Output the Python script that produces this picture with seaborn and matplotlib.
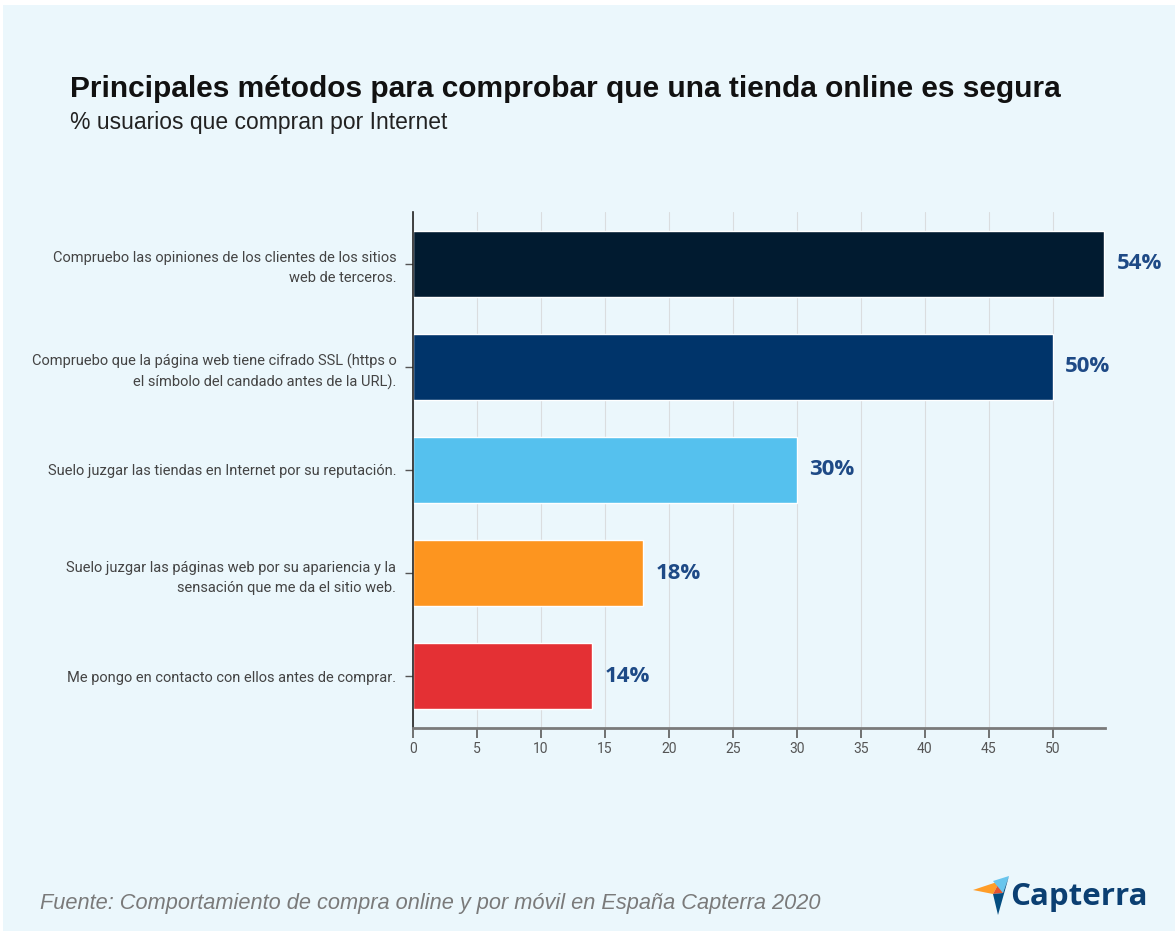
import numpy as np
import pandas as pd
import seaborn as sns
import matplotlib.pyplot as plt
from matplotlib.patches import Rectangle, Polygon

# data
categories = [
    "Compruebo las opiniones de los clientes de los sitios\nweb de terceros.",
    "Compruebo que la página web tiene cifrado SSL (https o\nel símbolo del candado antes de la URL).",
    "Suelo juzgar las tiendas en Internet por su reputación.",
    "Suelo juzgar las páginas web por su apariencia y la\nsensación que me da el sitio web.",
    "Me pongo en contacto con ellos antes de comprar.",
]
values = [54, 50, 30, 18, 14]
bar_colors = ["#011B30", "#00346A", "#55C1EE", "#FD951F", "#E43034"]
x_ticks = [0, 5, 10, 15, 20, 25, 30, 35, 40, 45, 50]

bg = "#EBF7FC"

sns.set_theme(style="white")
plt.rcParams['font.family'] = ['Liberation Sans', 'DejaVu Sans']

df = pd.DataFrame({"metodo": categories, "pct": values})

fig = plt.figure(figsize=(11.75, 9.31), dpi=100, facecolor="white")
# light blue panel, thin white strip at top and left like the screenshot
fig.patches.append(Rectangle((3 / 1175, 0), 1, 1 - 5 / 931, transform=fig.transFigure,
                             facecolor=bg, edgecolor="none", zorder=-10))

ax = fig.add_axes([413 / 1175, 203 / 931, 692 / 1175, 516 / 931])
ax.set_facecolor(bg)

sns.barplot(data=df, y="metodo", x="pct", hue="metodo", palette=bar_colors,
            legend=False, width=0.64, orient="h", ax=ax, saturation=1)

ax.set_xlim(0, 54.1)
ax.set_ylim(4.5, -0.5)
ax.set_xticks(x_ticks)
ax.xaxis.grid(True, color="#DADDDF", lw=0.8)
ax.set_axisbelow(True)
ax.set_xlabel("")
ax.set_ylabel("")

for s in ["top", "right"]:
    ax.spines[s].set_visible(False)
ax.spines["left"].set_color("#222222")
ax.spines["left"].set_linewidth(1.2)
ax.spines["bottom"].set_color("#7A7A7A")
ax.spines["bottom"].set_linewidth(2)

ax.tick_params(axis="x", bottom=True, length=7, width=1.3, color="#666666",
               labelsize=10, labelcolor="#555555", pad=3)
ax.tick_params(axis="y", left=True, length=6, width=1, color="#555555",
               labelsize=10.5, labelcolor="#444444", pad=6)
for lab in ax.get_yticklabels():
    lab.set_fontfamily("Roboto")
    lab.set_linespacing(1.55)
for lab in ax.get_xticklabels():
    lab.set_fontfamily("Roboto")

# value labels
for i, v in enumerate(values):
    ax.text(v + 1.0, i, f"{v}%", va="center", ha="left", fontsize=16,
            fontweight="bold", color="#1E4A86", family="Open Sans")

# titles
fig.text(70 / 1175, 1 - 89 / 931, "Principales métodos para comprobar que una tienda online es segura",
         fontsize=21.5, fontweight="bold", color="#111111", va="center", ha="left")
fig.text(70 / 1175, 1 - 123 / 931, "% usuarios que compran por Internet",
         fontsize=16.5, color="#222222", va="center", ha="left")

# footer
fig.text(40 / 1175, 1 - 903 / 931,
         "Fuente: Comportamiento de compra online y por móvil en España Capterra 2020",
         fontsize=15.7, style="italic", color="#7A7A7A", va="center", ha="left")

# Capterra logo (simple triangles + wordmark)
def fig_pts(pts):
    return [(x / 1175, 1 - y / 931) for x, y in pts]

fig.patches.append(Polygon(fig_pts([(973, 890), (1000, 881), (993, 894)]), closed=True,
                           transform=fig.transFigure, facecolor="#FF9D28", edgecolor="none"))
fig.patches.append(Polygon(fig_pts([(993, 894), (1000, 881), (1003, 893)]), closed=True,
                           transform=fig.transFigure, facecolor="#E8542E", edgecolor="none"))
fig.patches.append(Polygon(fig_pts([(993, 881), (1009, 876), (1003, 893)]), closed=True,
                           transform=fig.transFigure, facecolor="#68C5ED", edgecolor="none"))
fig.patches.append(Polygon(fig_pts([(993, 894), (1003, 893), (1009, 876), (998, 915)]), closed=True,
                           transform=fig.transFigure, facecolor="#044D80", edgecolor="none"))
fig.text(1010 / 1175, 1 - 897 / 931, "Capterra", fontsize=22.5, fontweight="bold",
         color="#0B3F72", va="center", ha="left", family="Open Sans")

fig.savefig("out.png", dpi=100, facecolor=fig.get_facecolor())
